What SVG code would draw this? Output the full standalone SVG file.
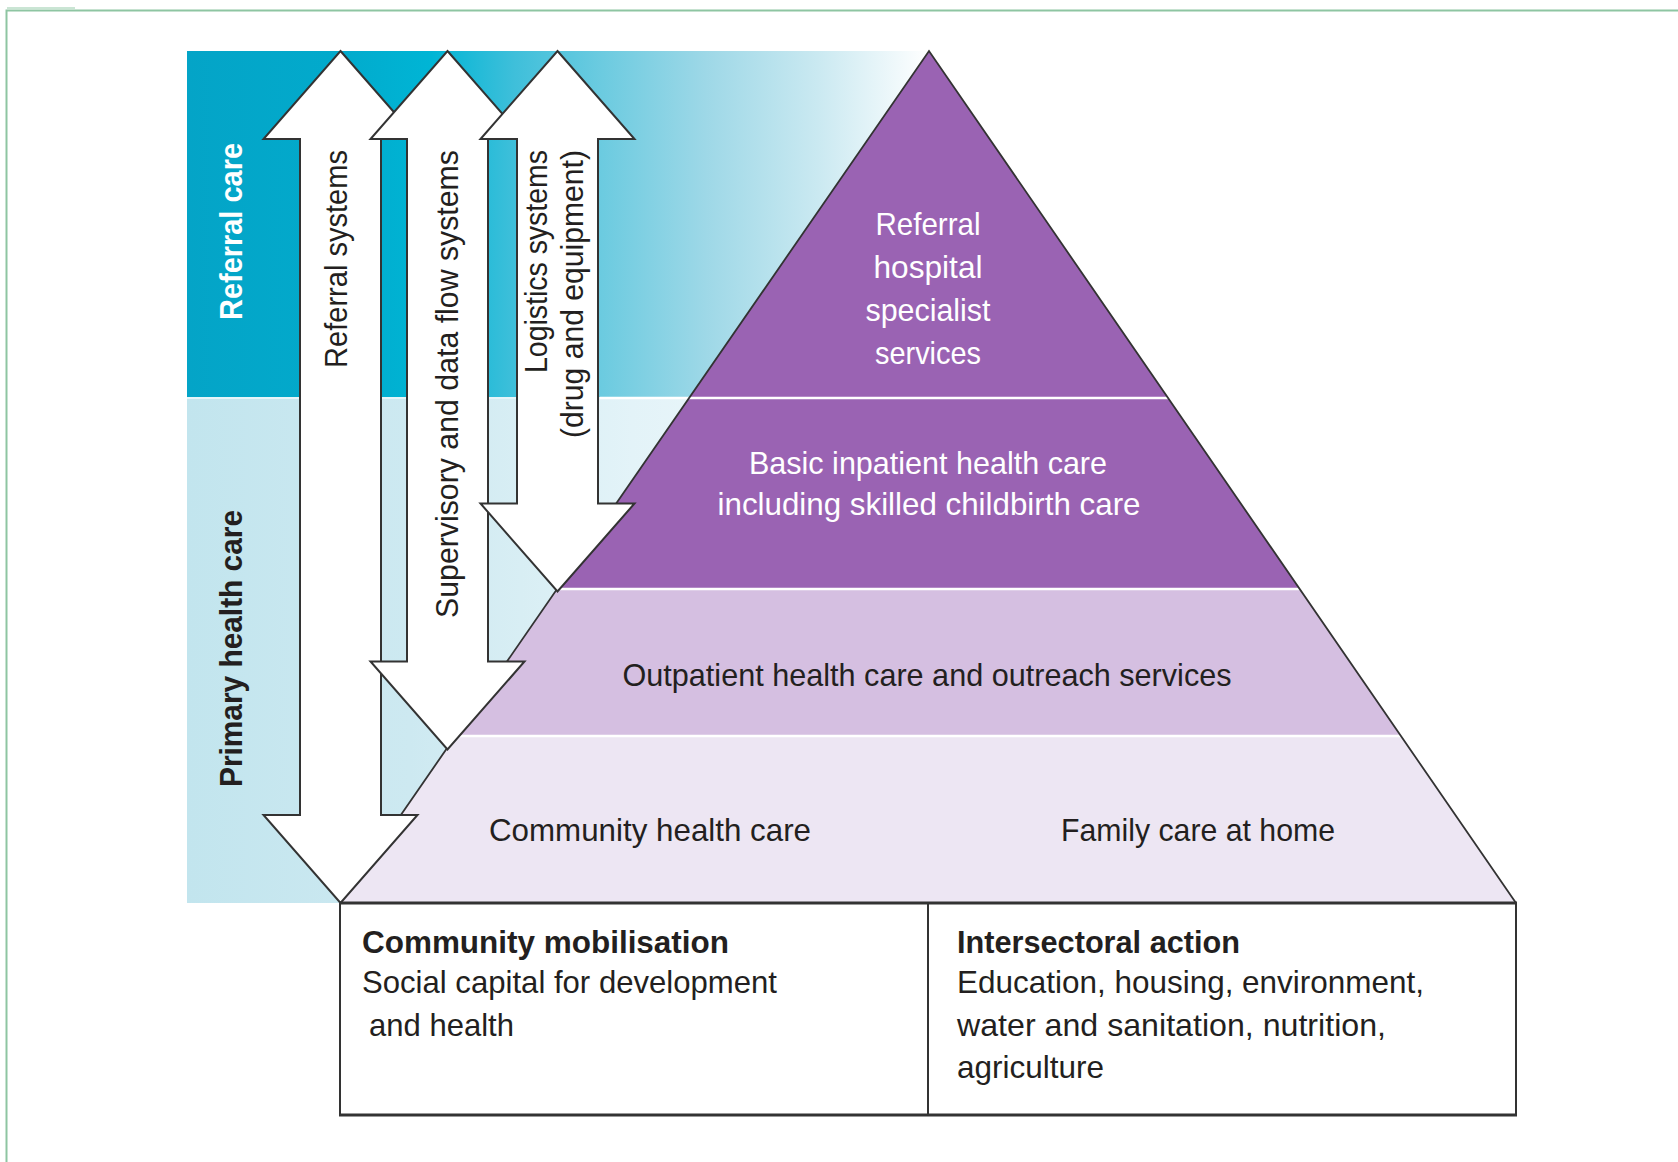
<svg xmlns="http://www.w3.org/2000/svg" width="1678" height="1162" viewBox="0 0 1678 1162">
<defs>
<linearGradient id="gTop" gradientUnits="userSpaceOnUse" x1="187" y1="0" x2="929" y2="0">
<stop offset="0" stop-color="#04a4c7"/>
<stop offset="0.2" stop-color="#02aacc"/>
<stop offset="0.33" stop-color="#00b5d5"/>
<stop offset="0.44" stop-color="#3ebfda"/>
<stop offset="0.56" stop-color="#6ccbe0"/>
<stop offset="0.70" stop-color="#9ed8e7"/>
<stop offset="0.85" stop-color="#cae9f1"/>
<stop offset="1" stop-color="#ffffff"/>
</linearGradient>
<linearGradient id="gLow" gradientUnits="userSpaceOnUse" x1="187" y1="0" x2="929" y2="0">
<stop offset="0" stop-color="#c2e5ee"/>
<stop offset="0.3" stop-color="#cde9f1"/>
<stop offset="0.45" stop-color="#d8eef4"/>
<stop offset="0.6" stop-color="#e3f3f8"/>
<stop offset="1" stop-color="#f6fbfd"/>
</linearGradient>
<style>
.arrow{fill:#ffffff;stroke:#333333;stroke-width:2;stroke-linejoin:miter}
.t{font-family:"Liberation Sans Narrow","Liberation Sans",Arial,sans-serif;font-size:32px;fill:#231f20}
.w{fill:#ffffff}
.b{font-weight:bold}
.mid{text-anchor:middle}
.end{text-anchor:end}
.sep{stroke:#ffffff;stroke-width:2.5}
.frame{fill:none;stroke:#8ec5a2;stroke-width:2}
</style>
</defs>

<g id="frame">
<path class="frame" d="M6.5,1162 V10.5 H1678"/>
<line x1="7" y1="8" x2="75" y2="8" stroke="#b9dcc6" stroke-width="1.5"/>
</g>

<g id="bands">
<rect id="band-referral" x="187" y="51" width="742" height="347" fill="url(#gTop)"/>
<rect id="band-primary" x="187" y="398" width="742" height="505" fill="url(#gLow)"/>
<line x1="187" y1="398" x2="700" y2="398" stroke="#e6f5f9" stroke-width="2"/>
</g>

<g id="pyramid">
<polygon id="tier-referral" points="929,51 1168.1,398 689.1,398" fill="#9a63b3"/>
<polygon id="tier-basic" points="689.1,398 1168.1,398 1299.7,589 557.1,589" fill="#9a63b3"/>
<polygon id="tier-outpatient" points="557.1,589 1299.7,589 1401,736 455.5,736" fill="#d5bfe1"/>
<polygon id="tier-community" points="455.5,736 1401,736 1516,903 340,903" fill="#ede6f3"/>
<line class="sep" x1="600" y1="398" x2="1168.1" y2="398"/>
<line class="sep" x1="557.1" y1="589" x2="1299.7" y2="589"/>
<line class="sep" x1="455.5" y1="736" x2="1401" y2="736"/>
<path d="M340,903 L929,51 L1516,903" fill="none" stroke="#333333" stroke-width="1.8"/>
</g>

<g id="connectors">
<polygon id="arrow-referral" class="arrow" points="340.5,51 417.5,139 381,139 381,815 417.5,815 340.5,903 263.5,815 300,815 300,139 263.5,139"/>
<polygon id="arrow-supervisory" class="arrow" points="447.5,51 524.5,139 488,139 488,661.5 524.5,661.5 447.5,749.5 370.5,661.5 407,661.5 407,139 370.5,139"/>
<polygon id="arrow-logistics" class="arrow" points="557.5,51 634.5,139 598,139 598,503.5 634.5,503.5 557.5,591.5 480.5,503.5 517,503.5 517,139 480.5,139"/>
</g>

<g id="box">
<rect x="340" y="903" width="1176" height="212" fill="#ffffff" stroke="none"/>
<line x1="340" y1="903" x2="340" y2="1115" stroke="#333333" stroke-width="2"/>
<line x1="1516" y1="903" x2="1516" y2="1115" stroke="#333333" stroke-width="2"/>
<line x1="928" y1="903" x2="928" y2="1115" stroke="#333333" stroke-width="2"/>
<line x1="339" y1="903" x2="1517" y2="903" stroke="#333333" stroke-width="3"/>
<line x1="339" y1="1115" x2="1517" y2="1115" stroke="#333333" stroke-width="3"/>
</g>

<g id="side-labels">
<text class="t b w mid" transform="translate(242,231.5) rotate(-90)" font-size="35" textLength="177" lengthAdjust="spacingAndGlyphs">Referral care</text>
<text class="t b mid" transform="translate(241.5,648.5) rotate(-90)" font-size="35" textLength="277" lengthAdjust="spacingAndGlyphs" fill="#2a2a2a">Primary health care</text>
</g>

<g id="arrow-labels">
<text class="t end" transform="translate(347,150) rotate(-90)" textLength="218" lengthAdjust="spacingAndGlyphs">Referral systems</text>
<text class="t end" transform="translate(458,150) rotate(-90)" textLength="468" lengthAdjust="spacingAndGlyphs">Supervisory and data flow systems</text>
<text class="t end" transform="translate(546.5,150) rotate(-90)" textLength="223" lengthAdjust="spacingAndGlyphs">Logistics systems</text>
<text class="t end" transform="translate(583,150) rotate(-90)" textLength="288" lengthAdjust="spacingAndGlyphs">(drug and equipment)</text>
</g>

<g id="tier-labels">
<g id="label-referral-hospital" class="t w mid">
<text x="928" y="235" textLength="105" lengthAdjust="spacingAndGlyphs">Referral</text>
<text x="928" y="278" textLength="109" lengthAdjust="spacingAndGlyphs">hospital</text>
<text x="928" y="321" textLength="125" lengthAdjust="spacingAndGlyphs">specialist</text>
<text x="928" y="364" textLength="106" lengthAdjust="spacingAndGlyphs">services</text>
</g>
<g id="label-basic-inpatient" class="t w mid">
<text x="928" y="474" textLength="358" lengthAdjust="spacingAndGlyphs">Basic inpatient health care</text>
<text x="929" y="515" textLength="423" lengthAdjust="spacingAndGlyphs">including skilled childbirth care</text>
</g>
<text id="label-outpatient" class="t mid" x="927" y="686" textLength="609" lengthAdjust="spacingAndGlyphs">Outpatient health care and outreach services</text>
<text id="label-community" class="t" x="489" y="841" textLength="322" lengthAdjust="spacingAndGlyphs">Community health care</text>
<text id="label-family" class="t" x="1061" y="841" textLength="274" lengthAdjust="spacingAndGlyphs">Family care at home</text>
</g>

<g id="box-left" class="t">
<text class="b" x="362" y="953" textLength="367" lengthAdjust="spacingAndGlyphs">Community mobilisation</text>
<text x="362" y="993" textLength="415" lengthAdjust="spacingAndGlyphs">Social capital for development</text>
<text x="369" y="1036" textLength="145" lengthAdjust="spacingAndGlyphs">and health</text>
</g>
<g id="box-right" class="t">
<text class="b" x="957" y="953" textLength="283" lengthAdjust="spacingAndGlyphs">Intersectoral action</text>
<text x="957" y="993" textLength="467" lengthAdjust="spacingAndGlyphs">Education, housing, environment,</text>
<text x="957" y="1036" textLength="429" lengthAdjust="spacingAndGlyphs">water and sanitation, nutrition,</text>
<text x="957" y="1078" textLength="147" lengthAdjust="spacingAndGlyphs">agriculture</text>
</g>
</svg>
